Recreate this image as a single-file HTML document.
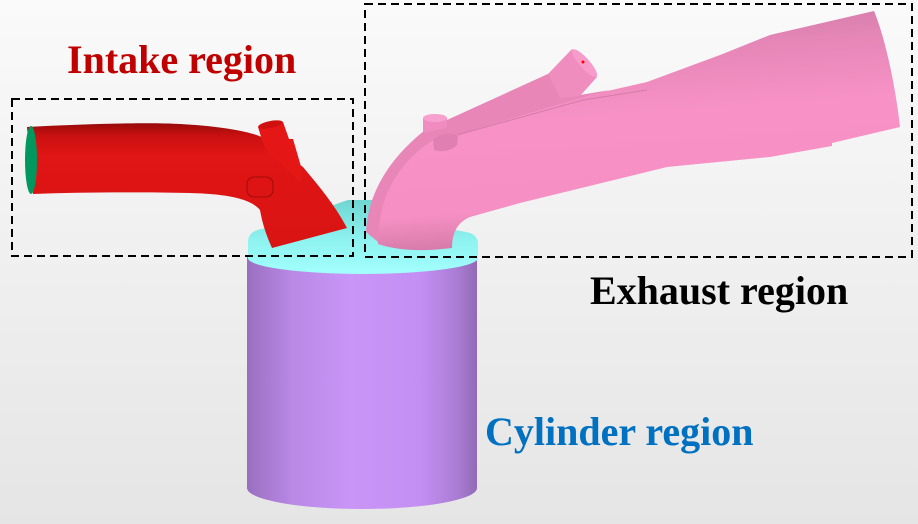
<!DOCTYPE html>
<html><head><meta charset="utf-8"><style>
html,body{margin:0;padding:0;}
body{width:918px;height:524px;overflow:hidden;}
svg{display:block;}
text{font-family:"Liberation Serif",serif;font-weight:bold;font-size:40px;}
</style></head><body>
<svg width="918" height="524" viewBox="0 0 918 524" xmlns="http://www.w3.org/2000/svg">
<defs>
<linearGradient id="bg" x1="0" y1="0" x2="0" y2="1">
<stop offset="0" stop-color="#fafafa"/><stop offset="1" stop-color="#e5e5e5"/>
</linearGradient>
<linearGradient id="cyl" x1="0" y1="0" x2="1" y2="0">
<stop offset="0" stop-color="#9a6fbf"/><stop offset="0.2" stop-color="#b989e6"/>
<stop offset="0.45" stop-color="#c995f7"/><stop offset="0.75" stop-color="#c48ff2"/>
<stop offset="0.92" stop-color="#a97cd3"/><stop offset="1" stop-color="#916ab4"/>
</linearGradient>
<linearGradient id="head" x1="0" y1="0" x2="0" y2="1">
<stop offset="0" stop-color="#6fd6d2"/><stop offset="0.5" stop-color="#8cf1ee"/><stop offset="1" stop-color="#a2fffd"/>
</linearGradient>
<linearGradient id="red" x1="0" y1="0" x2="0" y2="1">
<stop offset="0" stop-color="#960a0a"/><stop offset="0.1" stop-color="#c91010"/>
<stop offset="0.25" stop-color="#e01515"/><stop offset="1" stop-color="#d91313"/>
</linearGradient>
<linearGradient id="pink" x1="0" y1="0" x2="0.15" y2="1">
<stop offset="0" stop-color="#c8759f"/><stop offset="0.25" stop-color="#e687b8"/>
<stop offset="0.5" stop-color="#f892c6"/><stop offset="0.85" stop-color="#f690c4"/><stop offset="1" stop-color="#d47aa8"/>
</linearGradient>
</defs>
<rect width="918" height="524" fill="url(#bg)"/>

<!-- cylinder -->
<path d="M247,255 L247,488 A115,21 0 0 0 477,488 L477,255 Z" fill="url(#cyl)"/>

<!-- head -->
<path d="M248,258 L248,242 Q248,231 262,229 L300,221 Q328,206 348,200 L378,200 Q402,210 440,227 L466,232 Q478,234 478,244 L478,258 A115,16 0 0 1 248,258 Z" fill="url(#head)"/>

<!-- intake -->
<path d="M27,127 C80,124 150,122 180,124 C215,126 245,130 262,137 L303,167 C318,185 335,205 347,228 L272,248 C266,235 262,222 260,210 C250,198 225,194 190,193 C140,192 80,192 33,194 Z" fill="url(#red)"/>
<path d="M258,127 L283,122 L289,139 L293,139 L302,170 L300,182 L268,152 L263,143 Z" fill="#e41616"/>
<ellipse cx="270.5" cy="124.5" rx="12.5" ry="3.5" transform="rotate(-11 270.5 124.5)" fill="#d01111"/>
<rect x="247" y="177" width="26" height="20" rx="7" fill="none" stroke="#8c0a0a" stroke-width="0.8"/>
<ellipse cx="31" cy="160" rx="6" ry="34" fill="#00985e"/>

<!-- exhaust back runner -->
<path d="M366,232 C368,192 390,158 425,130 L550,73 L580,95 L610,90 L460,136 C420,150 385,190 378,242 Z" fill="#e786b7"/>
<!-- stub -->
<path d="M548,74 L572,49 L597,77 L580,96 L560,98 Z" fill="#f08dbf"/>
<ellipse cx="584.5" cy="63" rx="18" ry="5" transform="rotate(48 584.5 63)" fill="#f79bcb"/>
<circle cx="583" cy="62" r="1.5" fill="#ff0000"/>
<!-- back boss -->
<path d="M423,118 L423,133 L447,128 L447,118 Z" fill="#f08cbf"/>
<ellipse cx="435" cy="118" rx="12" ry="4" fill="#f7a0ce"/>
<!-- main exhaust pipe -->
<path d="M378,244 C378,200 395,165 433,140 L460,134 L590,95 L647,82 L720,55 L770,35 L874,11 C886,40 896,90 900,127 L832,143 L832,146 L770,157 L667,167 L520,203 L470,217 C458,222 452,232 452,248 C420,252 395,250 378,244 Z" fill="url(#pink)"/>
<path d="M457,135 L583,100 L647,90" fill="none" stroke="#d27ba8" stroke-width="1"/>
<!-- front boss -->
<path d="M433,140 C440,133 452,132 458,136 L457,145 C450,152 440,152 434,150 Z" fill="#e07fb1"/>

<!-- dashed boxes -->
<rect x="12" y="99" width="341" height="157" fill="none" stroke="#000" stroke-width="2" stroke-dasharray="8 5"/>
<rect x="365" y="4" width="547" height="253" fill="none" stroke="#000" stroke-width="2" stroke-dasharray="8 5"/>

<!-- labels -->
<text x="67" y="73" fill="#c00000">Intake region</text>
<text x="590" y="304" fill="#000000">Exhaust region</text>
<text x="485" y="445" fill="#0070c0">Cylinder region</text>
</svg>
</body></html>
